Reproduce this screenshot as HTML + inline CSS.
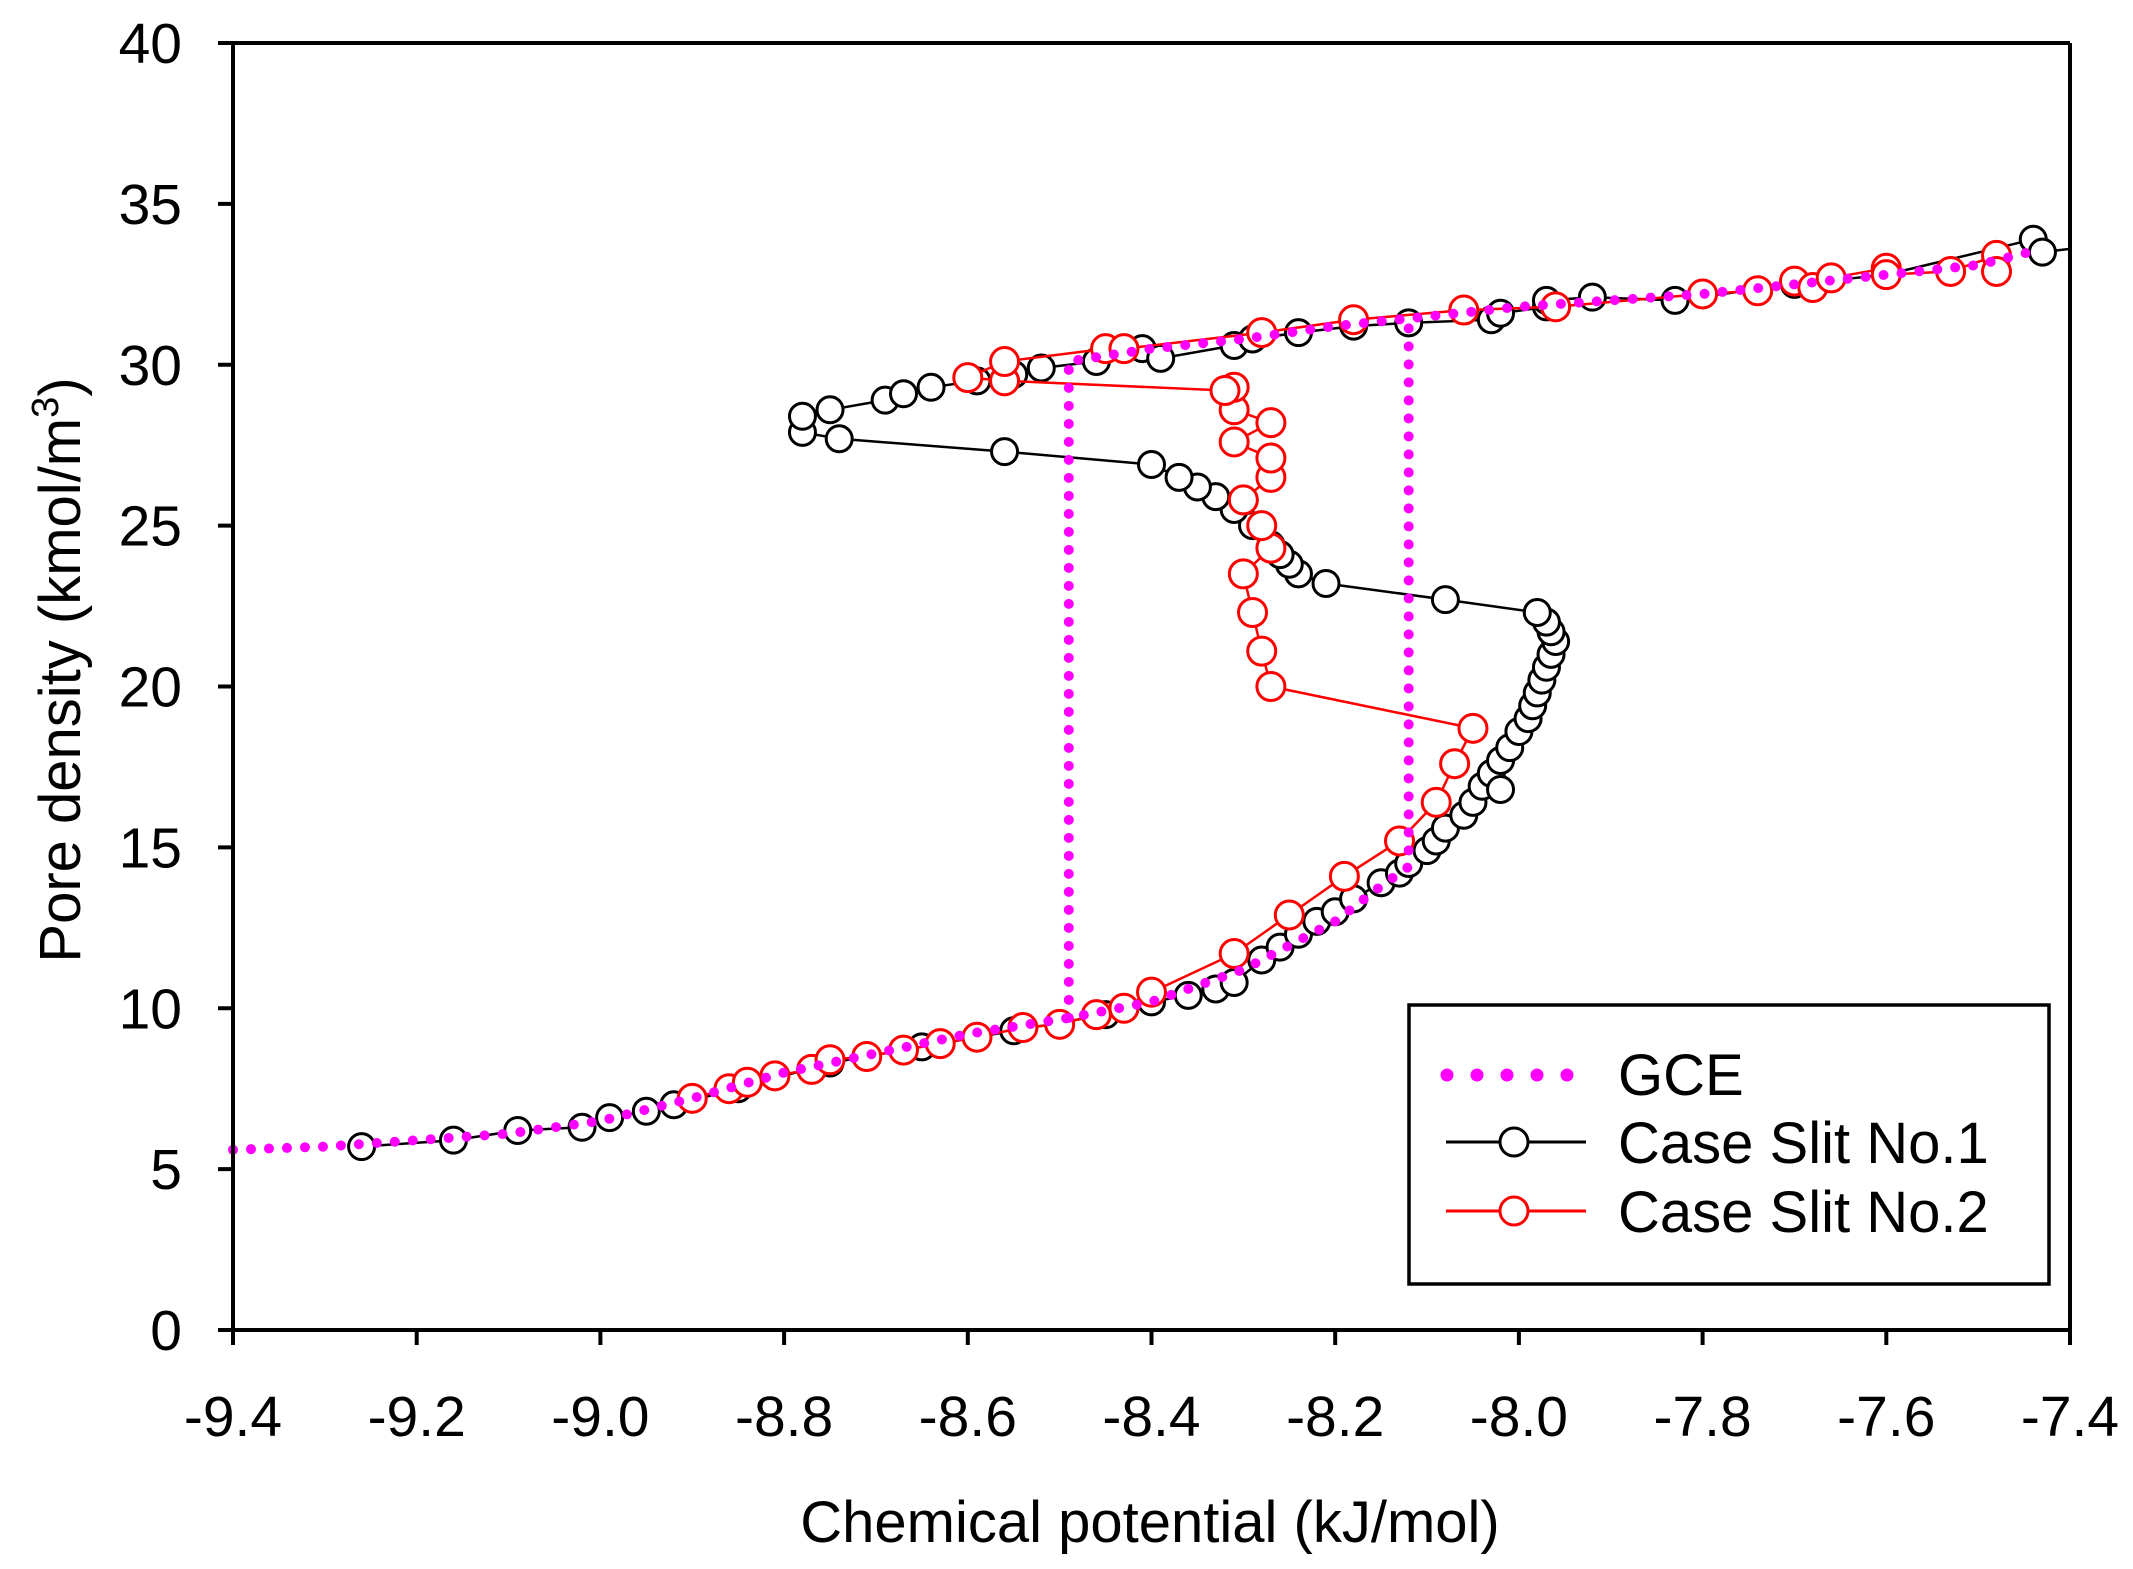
<!DOCTYPE html>
<html><head><meta charset="utf-8"><style>
html,body{margin:0;padding:0;background:#fff;}
svg{display:block;}
text{font-family:"Liberation Sans",Arial,sans-serif;fill:#000;}
</style></head><body>
<svg id="s" width="2133" height="1569" viewBox="0 0 2133 1569" xmlns="http://www.w3.org/2000/svg">
<g id="g"></g>
<g stroke="#000" stroke-width="4" fill="none">
<line x1="233" y1="43" x2="2070" y2="43"/>
<line x1="233" y1="43" x2="233" y2="1330"/>
<line x1="233" y1="1330" x2="2070" y2="1330"/>
<line x1="2070" y1="43" x2="2070" y2="1330"/>
</g>
<g id="ticks" stroke="#000" stroke-width="4"></g>
<g id="labels" font-size="57"></g>
<text x="1150" y="1542" font-size="58" text-anchor="middle">Chemical potential (kJ/mol)</text>
<text transform="translate(80,670) rotate(-90)" font-size="58" text-anchor="middle">Pore density (kmol/m<tspan dy="-22" font-size="38">3</tspan><tspan dy="22">)</tspan></text>
<rect x="1409" y="1005" width="640" height="279" fill="#fff" stroke="#000" stroke-width="3.5"/>
<line x1="1447" y1="1075" x2="1572" y2="1075" stroke="#ff00ff" stroke-width="13" stroke-linecap="round" stroke-dasharray="0 30"/>
<line x1="1446" y1="1142" x2="1586" y2="1142" stroke="#000" stroke-width="3"/>
<circle cx="1514" cy="1142" r="14" fill="#fff" stroke="#000" stroke-width="3"/>
<line x1="1446" y1="1211" x2="1586" y2="1211" stroke="#f00" stroke-width="3"/>
<circle cx="1514" cy="1211" r="14" fill="#fff" stroke="#f00" stroke-width="3"/>
<text x="1618" y="1095" font-size="58">GCE</text>
<text x="1618" y="1163" font-size="58">Case Slit No.1</text>
<text x="1618" y="1232" font-size="58">Case Slit No.2</text>
</svg>
<script>
var X=function(v){return 233+(v+9.4)/2*1837;}, Y=function(v){return 1330-v/40*1287;};
var NS="http://www.w3.org/2000/svg";
function el(p,t,a){var e=document.createElementNS(NS,t);for(var k in a)e.setAttribute(k,a[k]);p.appendChild(e);return e;}
var tk=document.getElementById('ticks'),lb=document.getElementById('labels');
for(var i=0;i<=10;i++){var v=-9.4+0.2*i,x=X(v);el(tk,'line',{x1:x,y1:1330,x2:x,y2:1345});
 var t=el(lb,'text',{x:x,y:1436,'text-anchor':'middle'});t.textContent=v.toFixed(1);}
for(var j=0;j<=8;j++){var y=Y(j*5);el(tk,'line',{x1:218,y1:y,x2:233,y2:y});
 var t2=el(lb,'text',{x:182,y:y+20,'text-anchor':'end'});t2.textContent=String(j*5);}
var g=document.getElementById('g');
function pts(a){return a.map(function(p){return X(p[0]).toFixed(1)+','+Y(p[1]).toFixed(1);}).join(' ');}
var b=[[-9.26,5.7],[-9.16,5.9],[-9.09,6.2],[-9.02,6.3],[-8.99,6.6],[-8.95,6.8],[-8.92,7.0],[-8.85,7.5],[-8.75,8.3],[-8.65,8.8],[-8.55,9.3],[-8.45,9.8],[-8.4,10.2],[-8.36,10.4],[-8.33,10.6],[-8.31,10.8],[-8.28,11.5],[-8.26,11.9],[-8.24,12.3],[-8.22,12.7],[-8.2,13.0],[-8.18,13.4],[-8.15,13.9],[-8.13,14.2],[-8.12,14.5],[-8.1,14.9],[-8.09,15.2],[-8.08,15.6],[-8.06,16.0],[-8.05,16.4],[-8.04,16.9],[-8.03,17.3],[-8.02,17.7],[-8.01,18.1],[-8.0,18.6],[-7.99,19.0],[-7.985,19.4],[-7.98,19.8],[-7.975,20.2],[-7.97,20.6],[-7.965,21.0],[-7.96,21.4],[-7.965,21.7],[-7.97,22.0],[-7.98,22.3],[-8.08,22.7],[-8.21,23.2],[-8.24,23.5],[-8.25,23.8],[-8.26,24.1],[-8.27,24.4],[-8.29,25.0],[-8.31,25.5],[-8.33,25.9],[-8.35,26.2],[-8.37,26.5],[-8.4,26.9],[-8.56,27.3],[-8.74,27.7],[-8.78,27.9],[-8.78,28.4],[-8.75,28.6],[-8.69,28.9],[-8.67,29.1],[-8.64,29.3],[-8.59,29.5],[-8.55,29.7],[-8.52,29.9],[-8.46,30.1],[-8.41,30.5],[-8.39,30.2],[-8.31,30.6],[-8.29,30.8],[-8.24,31.0],[-8.18,31.2],[-8.12,31.3],[-8.03,31.4],[-8.02,31.6],[-7.97,31.8],[-7.97,32.0],[-7.92,32.1],[-7.83,32.0],[-7.7,32.5],[-7.6,32.8],[-7.44,33.9],[-7.43,33.5]];
var r=[[-8.9,7.2],[-8.86,7.5],[-8.84,7.7],[-8.81,7.9],[-8.77,8.1],[-8.75,8.4],[-8.71,8.5],[-8.67,8.7],[-8.63,8.9],[-8.59,9.1],[-8.54,9.4],[-8.5,9.5],[-8.46,9.8],[-8.43,10.0],[-8.4,10.5],[-8.31,11.7],[-8.25,12.9],[-8.19,14.1],[-8.13,15.2],[-8.09,16.4],[-8.07,17.6],[-8.05,18.7],[-8.27,20.0],[-8.28,21.1],[-8.29,22.3],[-8.3,23.5],[-8.27,24.3],[-8.28,25.0],[-8.3,25.8],[-8.27,26.5],[-8.27,27.1],[-8.31,27.6],[-8.27,28.2],[-8.31,28.6],[-8.31,29.3],[-8.32,29.2],[-8.56,29.5],[-8.6,29.6],[-8.56,30.1],[-8.45,30.5],[-8.43,30.5],[-8.28,31.0],[-8.18,31.4],[-8.06,31.7],[-7.96,31.8],[-7.8,32.2],[-7.74,32.3],[-7.7,32.6],[-7.68,32.4],[-7.66,32.7],[-7.6,33.0],[-7.6,32.8],[-7.53,32.9],[-7.48,33.4],[-7.48,32.9]];
el(g,'polyline',{points:pts(b.concat([[-7.4,33.6]])),fill:'none',stroke:'#000','stroke-width':2.5});
b.concat([[-8.02,16.8]]).forEach(function(p){el(g,'circle',{cx:X(p[0]),cy:Y(p[1]),r:13,fill:'#fff',stroke:'#000','stroke-width':3});});
el(g,'polyline',{points:pts(r),fill:'none',stroke:'#f00','stroke-width':2.5});
r.forEach(function(p){el(g,'circle',{cx:X(p[0]),cy:Y(p[1]),r:14,fill:'#fff',stroke:'#f00','stroke-width':3});});
var gl=[[-9.4,5.6],[-9.3,5.7],[-9.2,5.9],[-9.1,6.1],[-9.0,6.5],[-8.9,7.2],[-8.8,8.0],[-8.7,8.6],[-8.6,9.2],[-8.49,9.7],[-8.4,10.2],[-8.3,11.2],[-8.2,12.7],[-8.15,13.8],[-8.12,14.4],[-8.12,31.4]];
var gu=[[-8.49,9.7],[-8.49,30.1],[-8.4,30.5],[-8.3,30.8],[-8.2,31.2],[-8.1,31.5],[-8.0,31.8],[-7.9,32.0],[-7.8,32.2],[-7.7,32.5],[-7.6,32.8],[-7.5,33.1],[-7.43,33.6]];
[gl,gu].forEach(function(a){el(g,'polyline',{points:pts(a),fill:'none',stroke:'#ff00ff','stroke-width':10,'stroke-linecap':'round','stroke-dasharray':'0 18'});});
</script>
</body></html>
